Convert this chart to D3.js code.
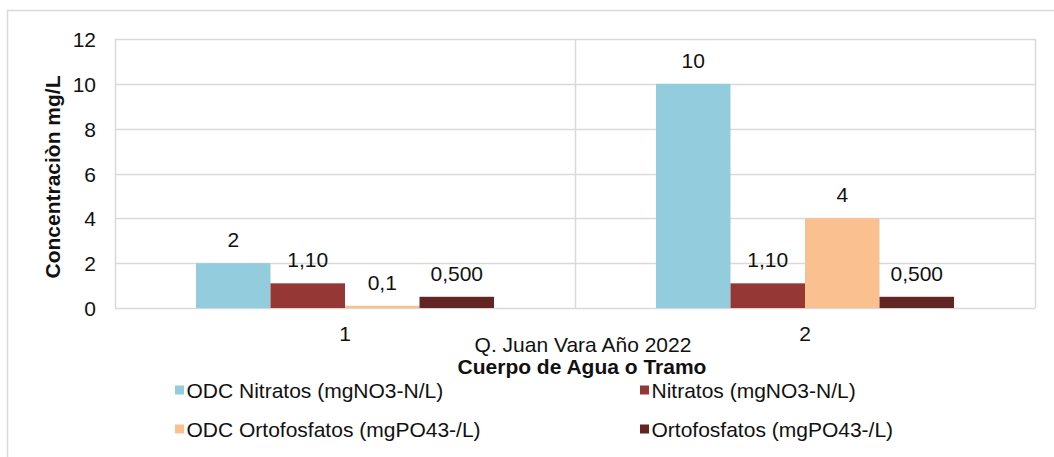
<!DOCTYPE html>
<html>
<head>
<meta charset="utf-8">
<script src="https://cdn.jsdelivr.net/npm/d3@7"></script>
<style>
  html, body { margin: 0; padding: 0; background: #fff; }
  svg { display: block; font-family: "Liberation Sans", Arial, sans-serif; }
</style>
</head>
<body>
<svg id="chart" width="1054" height="457"></svg>
<script>
// ---- data ----
const categories = ["1", "2"];
const seriesNames = [
  "ODC Nitratos (mgNO3-N/L)",
  "Nitratos (mgNO3-N/L)",
  "ODC Ortofosfatos (mgPO43-/L)",
  "Ortofosfatos (mgPO43-/L)"
];
const seriesColors = ["#93CDDD", "#953735", "#FAC090", "#632523"];
const odcNitratos = [2, 10];
const nitratos = [1.1, 1.1];
const odcOrtofosfatos = [0.1, 4];
const ortofosfatos = [0.5, 0.5];
const dataLabels = [
  ["2", "10"],
  ["1,10", "1,10"],
  ["0,1", "4"],
  ["0,500", "0,500"]
];
const yTicks = [0, 2, 4, 6, 8, 10, 12];
const xTitle1 = "Q. Juan Vara Año 2022";
const xTitle2 = "Cuerpo de Agua o Tramo";
const yTitle = "Concentraciòn mg/L";

const seriesValues = [odcNitratos, nitratos, odcOrtofosfatos, ortofosfatos];

// ---- layout ----
const svg = d3.select("#chart");
const W = 1054, H = 457;
const plot = { left: 115, right: 1035, top: 39, bottom: 308 };
const grid = "#d9d9d9";
const txt = "#111";
const fs = 21;

// outer chart border
svg.append("rect")
  .attr("x", 7.5).attr("y", 10.5)
  .attr("width", W + 20).attr("height", H + 20)
  .attr("fill", "#fff").attr("stroke", grid).attr("stroke-width", 1.5);

const x0 = d3.scaleBand().domain(categories).range([plot.left, plot.right]).paddingInner(0).paddingOuter(0);
const x1 = d3.scaleBand().domain(d3.range(seriesNames.length)).range([0, x0.bandwidth()]).paddingInner(0).paddingOuter(1.087);
const y = d3.scaleLinear().domain([0, 12]).range([plot.bottom, plot.top]);

// horizontal gridlines
svg.append("g").selectAll("line").data(yTicks).join("line")
  .attr("x1", plot.left).attr("x2", plot.right)
  .attr("y1", d => Math.round(y(d)) + 0.5).attr("y2", d => Math.round(y(d)) + 0.5)
  .attr("stroke", grid).attr("stroke-width", 1.5);

// vertical lines at category boundaries
const boundaries = [plot.left, ...categories.slice(1).map(c => x0(c)), plot.right];
svg.append("g").selectAll("line").data(boundaries).join("line")
  .attr("x1", d => Math.round(d) + 0.5).attr("x2", d => Math.round(d) + 0.5)
  .attr("y1", plot.top).attr("y2", plot.bottom)
  .attr("stroke", grid).attr("stroke-width", 1.5);

// bars
const groups = svg.append("g").selectAll("g").data(categories).join("g")
  .attr("transform", c => `translate(${x0(c)},0)`);
groups.each(function(c, ci) {
  const g = d3.select(this);
  seriesValues.forEach((vals, si) => {
    const v = vals[ci];
    g.append("rect")
      .attr("x", x1(si)).attr("width", x1.bandwidth())
      .attr("y", y(v)).attr("height", y(0) - y(v))
      .attr("fill", seriesColors[si]);
    g.append("text")
      .attr("x", x1(si) + x1.bandwidth() / 2)
      .attr("y", y(v) - 16)
      .attr("text-anchor", "middle")
      .attr("font-size", fs).attr("fill", txt)
      .text(dataLabels[si][ci]);
  });
});

// y axis tick labels
const yAxis = d3.axisLeft(y).tickValues(yTicks).tickSize(0).tickPadding(0).tickFormat(d3.format("d"));
const yg = svg.append("g").attr("transform", `translate(96,0)`).call(yAxis);
yg.select(".domain").remove();
yg.selectAll("text").attr("font-size", fs).attr("fill", txt).attr("font-family", "Liberation Sans, Arial, sans-serif").attr("dy", "0.36em");

// x axis tick labels
const xAxis = d3.axisBottom(x0).tickSize(0).tickPadding(0);
const xg = svg.append("g").attr("transform", `translate(0,326)`).call(xAxis);
xg.select(".domain").remove();
xg.selectAll("text").attr("font-size", fs).attr("fill", txt).attr("font-family", "Liberation Sans, Arial, sans-serif").attr("dy", "0.71em");

// axis titles
svg.append("text").attr("x", 583).attr("y", 352).attr("text-anchor", "middle")
  .attr("font-size", fs).attr("fill", txt).text(xTitle1);
svg.append("text").attr("x", 582).attr("y", 374).attr("text-anchor", "middle")
  .attr("font-size", fs).attr("font-weight", "bold").attr("fill", txt).text(xTitle2);
svg.append("text").attr("transform", "translate(60,177) rotate(-90)").attr("text-anchor", "middle")
  .attr("font-size", fs).attr("font-weight", "bold").attr("fill", txt).text(yTitle);

// legend
const legX = [175, 640];
const legY = [398, 437];
const leg = svg.append("g").selectAll("g").data(seriesNames).join("g")
  .attr("transform", (d, i) => `translate(${legX[i % 2]},${legY[Math.floor(i / 2)]})`);
leg.append("rect").attr("x", 0).attr("y", -12.5).attr("width", 9).attr("height", 9)
  .attr("fill", (d, i) => seriesColors[i]);
leg.append("text").attr("x", 11.5).attr("y", 0).attr("font-size", fs).attr("fill", txt).text(d => d);
</script>
</body>
</html>
